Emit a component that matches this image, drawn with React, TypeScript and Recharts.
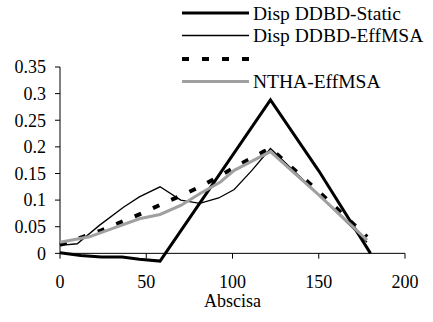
import React from 'react';
import { LineChart, Line, XAxis, YAxis, Legend, ReferenceLine } from 'recharts';

// Disp DDBD-Static
const staticAbscisa = [0, 12, 24, 36, 46, 58, 122, 150, 180];
const staticDisp = [0.001, -0.004, -0.007, -0.007, -0.011, -0.0145, 0.288, 0.155, 0];

// Disp DDBD-EffMSA
const effAbscisa = [0, 10, 23, 37, 46, 58, 70, 81, 92, 101, 111, 122, 150, 178];
const effDisp = [0.015, 0.018, 0.053, 0.087, 0.106, 0.125, 0.1, 0.094, 0.104, 0.12, 0.155, 0.197, 0.11, 0.021];

// unnamed dashed series
const dashAbscisa = [0, 24, 37, 48, 60, 72, 83, 95, 106, 118, 122, 150, 178];
const dashDisp = [0.016, 0.043, 0.061, 0.076, 0.094, 0.111, 0.128, 0.15, 0.17, 0.191, 0.197, 0.116, 0.031];

// NTHA-EffMSA
const nthaAbscisa = [0, 17, 29, 46, 58, 70, 81, 93, 101, 122, 150, 178];
const nthaDisp = [0.021, 0.031, 0.045, 0.065, 0.073, 0.09, 0.112, 0.134, 0.156, 0.191, 0.11, 0.025];

const xTicks = [0, 50, 100, 150, 200];
const yTicks = [0, 0.05, 0.1, 0.15, 0.2, 0.25, 0.3, 0.35];
const seriesNames = ['Disp DDBD-Static', 'Disp DDBD-EffMSA', '', 'NTHA-EffMSA'];

const FONT = 'Liberation Serif, DejaVu Serif, serif';

const zip = (xs: number[], ys: number[]) => xs.map((x, i) => ({ x, y: ys[i] }));

const series = [
  { name: seriesNames[0], data: zip(staticAbscisa, staticDisp), stroke: '#000000', width: 3, dash: undefined as string | undefined },
  { name: seriesNames[1], data: zip(effAbscisa, effDisp), stroke: '#000000', width: 1.3, dash: undefined },
  { name: seriesNames[2], data: zip(dashAbscisa, dashDisp), stroke: '#000000', width: 4, dash: '7 13' },
  { name: seriesNames[3], data: zip(nthaAbscisa, nthaDisp), stroke: '#a0a0a0', width: 3, dash: undefined },
];

const legendRowsY = [13, 35.5, 59, 81.5];

const LegendContent = () => (
  <svg width={433} height={95} style={{ display: 'block' }}>
    {series.map((s, i) => (
      <g key={i}>
        <line x1={182} x2={249} y1={legendRowsY[i]} y2={legendRowsY[i]} stroke={s.stroke} strokeWidth={s.width} strokeDasharray={s.dash} />
        <text x={253} y={legendRowsY[i]} dy="0.35em" style={{ fontFamily: FONT, fontSize: 19.5 }} fill="#000">{s.name}</text>
      </g>
    ))}
  </svg>
);

const tickStyle = { fill: '#000', fontSize: 18, fontFamily: FONT, style: { fontFamily: FONT } };

export default function App() {
  return (
    <div style={{ position: 'absolute', left: 0, top: 0, width: 433, height: 322, background: '#fff', fontFamily: FONT }}>
      <LineChart width={433} height={322} margin={{ top: 67, right: 28, left: 0, bottom: 0 }} style={{ fontFamily: FONT }}>
        <XAxis
          dataKey="x"
          type="number"
          domain={[0, 200]}
          ticks={xTicks}
          interval={0}
          axisLine={false}
          tickLine={false}
          tickSize={9}
          tickMargin={2}
          height={58}
          tick={tickStyle}
          label={{ value: 'Abscisa', position: 'insideBottom', offset: 15, fill: '#000', fontSize: 18, fontFamily: FONT, style: { fontFamily: FONT } }}
        />
        <YAxis
          type="number"
          domain={[-0.02, 0.35]}
          ticks={yTicks}
          interval={0}
          axisLine={false}
          tickLine={{ stroke: '#000' }}
          tickSize={5}
          tickMargin={9}
          width={60}
          tick={tickStyle}
        />
        <Legend
          layout="vertical"
          verticalAlign="middle"
          align="center"
          content={LegendContent}
          wrapperStyle={{ position: 'absolute', top: 0, left: 0, width: 433, height: 95 }}
        />
        <ReferenceLine y={0} stroke="#000" strokeWidth={1} />
        <ReferenceLine segment={[{ x: 0, y: 0 }, { x: 0, y: 0.35 }]} stroke="#000" strokeWidth={1} />
        {xTicks.map((t) => (
          <ReferenceLine key={t} segment={[{ x: t, y: 0 }, { x: t, y: -0.01 }]} stroke="#000" strokeWidth={1} />
        ))}
        {series.map((s, i) => (
          <Line
            key={i}
            data={s.data}
            dataKey="y"
            name={s.name || 'series3'}
            type="linear"
            stroke={s.stroke}
            strokeWidth={s.width}
            strokeDasharray={s.dash}
            dot={false}
            activeDot={false}
            isAnimationActive={false}
          />
        ))}
      </LineChart>
    </div>
  );
}
